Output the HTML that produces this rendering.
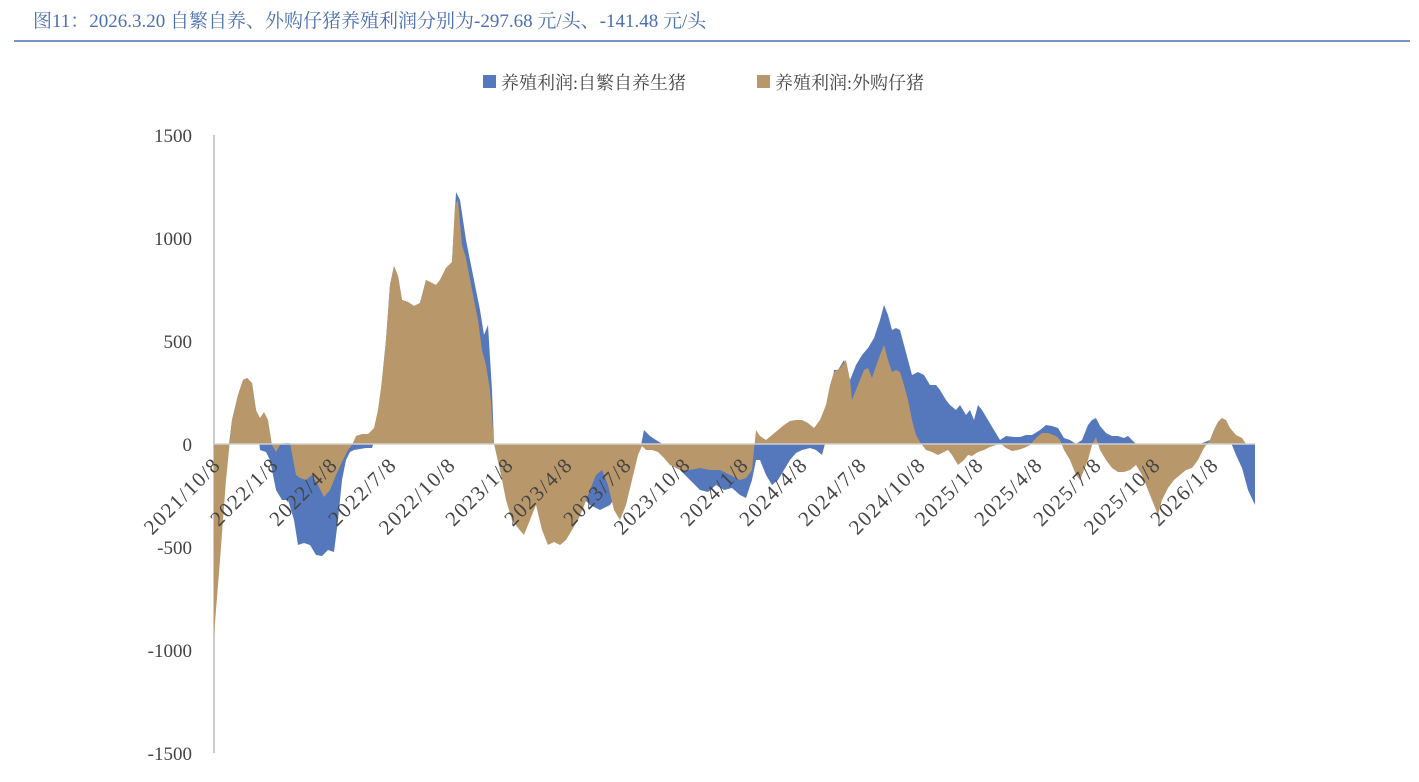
<!DOCTYPE html>
<html><head><meta charset="utf-8"><style>
body{margin:0;background:#fff;width:1419px;height:777px;overflow:hidden;font-family:"Liberation Serif","Noto Serif CJK SC",serif;}
</style></head><body>
<svg width="1419" height="777" xmlns="http://www.w3.org/2000/svg">
<text x="33" y="27" font-size="19" fill="#4a6fb0" font-family="Liberation Serif,Noto Serif CJK SC,serif">图11：2026.3.20 自繁自养、外购仔猪养殖利润分别为-297.68 元/头、-141.48 元/头</text>
<line x1="14" y1="41" x2="1410" y2="41" stroke="#4a6fb0" stroke-width="1.5"/>
<rect x="483" y="75" width="13" height="13" fill="#5577bb"/>
<text x="501" y="89" font-size="18" fill="#444" font-family="Liberation Serif,Noto Serif CJK SC,serif">养殖利润:自繁自养生猪</text>
<rect x="757" y="75" width="13" height="13" fill="#b8976a"/>
<text x="775" y="89" font-size="18" fill="#444" font-family="Liberation Serif,Noto Serif CJK SC,serif">养殖利润:外购仔猪</text>
<g font-size="19" fill="#444" text-anchor="end">
<text x="192" y="142">1500</text><text x="192" y="245">1000</text><text x="192" y="348">500</text>
<text x="192" y="451">0</text><text x="192" y="554">-500</text><text x="192" y="657">-1000</text><text x="192" y="760">-1500</text>
</g>
<line x1="214" y1="135" x2="214" y2="753" stroke="#ccc" stroke-width="2"/>
<polygon fill="#5577bb" points="214,444 214,630 220,540 226,470 232,420 238,395 243,380 247,378 252,383 256,410 260,450 266,452 270,460 276,490 282,500 288,500 294,520 298,545 304,543 310,545 316,555 322,556 328,550 334,552 338,520 342,480 346,460 350,452 354,450 360,449 366,448 372,448 378,430 382,380 386,340 390,285 394,266 398,276 402,300 408,302 414,306 420,303 426,280 432,283 436,285 440,280 446,268 452,262 456,192 460,200 466,240 470,260 476,290 480,310 484,335 488,325 492,390 494,444 500,460 510,480 520,490 530,495 540,500 550,510 560,510 570,505 580,495 590,505 600,510 610,505 620,490 630,470 640,450 644,430 650,436 656,440 664,445 672,455 680,470 690,480 700,490 708,492 716,485 724,490 732,488 740,495 746,498 752,480 756,460 760,460 766,475 772,485 778,480 784,470 790,460 796,453 802,450 810,448 816,450 822,455 826,440 830,410 834,370 838,370 844,360 850,380 856,365 862,355 868,348 874,338 880,320 884,305 888,315 892,330 896,328 900,330 904,345 908,360 912,375 918,372 924,375 930,385 936,385 940,390 946,400 950,405 956,410 960,405 966,415 970,410 974,420 978,405 982,410 988,420 994,430 1000,440 1006,436 1014,437 1020,437 1026,435 1032,435 1040,430 1046,425 1052,426 1058,428 1064,438 1070,440 1076,444 1082,440 1088,425 1092,420 1096,418 1100,426 1106,433 1112,436 1118,436 1124,438 1128,436 1132,440 1136,444 1200,444 1210,440 1214,430 1218,422 1222,418 1226,425 1230,440 1236,455 1242,468 1248,490 1255,505 1255,444"/>
<polygon fill="#b8976a" points="214,444 214,635 220,560 226,480 232,420 238,395 243,380 247,378 252,383 256,410 260,418 264,412 268,420 272,445 276,452 280,445 285,443 290,443 296,475 300,478 306,480 312,475 318,485 324,497 330,490 336,475 342,462 348,450 352,445 356,436 362,434 368,434 374,428 378,410 382,380 386,340 390,285 394,266 398,276 402,300 408,302 414,306 420,303 426,280 432,283 436,285 440,280 446,268 452,262 455,205 458,200 462,245 466,258 472,290 478,320 482,350 486,365 490,390 494,444 500,470 506,500 512,520 518,528 524,535 530,520 536,505 542,530 548,545 554,542 560,545 566,540 572,530 578,520 584,506 590,490 596,475 602,470 608,485 614,510 620,520 626,505 632,480 638,455 642,446 646,450 652,450 658,452 664,458 670,465 680,470 690,470 700,468 710,470 720,470 730,475 740,480 746,478 752,470 756,430 760,436 766,440 772,435 778,430 784,425 790,421 796,420 802,420 808,423 814,428 820,420 826,405 830,385 834,372 840,368 846,360 850,380 852,400 856,390 860,380 864,370 868,368 872,378 876,366 880,355 884,345 888,360 892,372 896,370 900,372 904,385 908,400 912,420 916,435 920,442 926,450 932,452 938,455 944,452 948,450 952,455 958,465 964,460 968,455 972,456 978,452 984,450 990,447 996,445 1000,443 1006,448 1012,451 1018,450 1024,448 1030,445 1036,438 1042,433 1048,433 1056,436 1060,440 1064,450 1070,460 1076,475 1080,480 1084,470 1088,460 1092,445 1096,437 1100,450 1106,460 1112,468 1118,472 1124,472 1130,470 1136,465 1142,475 1148,490 1154,505 1158,515 1162,500 1168,488 1174,480 1180,475 1186,470 1192,468 1198,460 1204,448 1210,440 1214,430 1218,422 1222,418 1226,420 1230,428 1236,435 1242,438 1246,444"/>
<line x1="214" y1="444" x2="1255" y2="444" stroke="#d0d0d0" stroke-width="1.5"/>
<g font-size="21" fill="#444" text-anchor="end" letter-spacing="1.5">
<text transform="translate(222,466) rotate(-45)">2021/10/8</text>
<text transform="translate(280,466) rotate(-45)">2022/1/8</text>
<text transform="translate(339,466) rotate(-45)">2022/4/8</text>
<text transform="translate(398,466) rotate(-45)">2022/7/8</text>
<text transform="translate(457,466) rotate(-45)">2022/10/8</text>
<text transform="translate(515,466) rotate(-45)">2023/1/8</text>
<text transform="translate(574,466) rotate(-45)">2023/4/8</text>
<text transform="translate(633,466) rotate(-45)">2023/7/8</text>
<text transform="translate(692,466) rotate(-45)">2023/10/8</text>
<text transform="translate(750,466) rotate(-45)">2024/1/8</text>
<text transform="translate(809,466) rotate(-45)">2024/4/8</text>
<text transform="translate(868,466) rotate(-45)">2024/7/8</text>
<text transform="translate(927,466) rotate(-45)">2024/10/8</text>
<text transform="translate(985,466) rotate(-45)">2025/1/8</text>
<text transform="translate(1044,466) rotate(-45)">2025/4/8</text>
<text transform="translate(1103,466) rotate(-45)">2025/7/8</text>
<text transform="translate(1162,466) rotate(-45)">2025/10/8</text>
<text transform="translate(1220,466) rotate(-45)">2026/1/8</text>
</g>
</svg>
</body></html>
